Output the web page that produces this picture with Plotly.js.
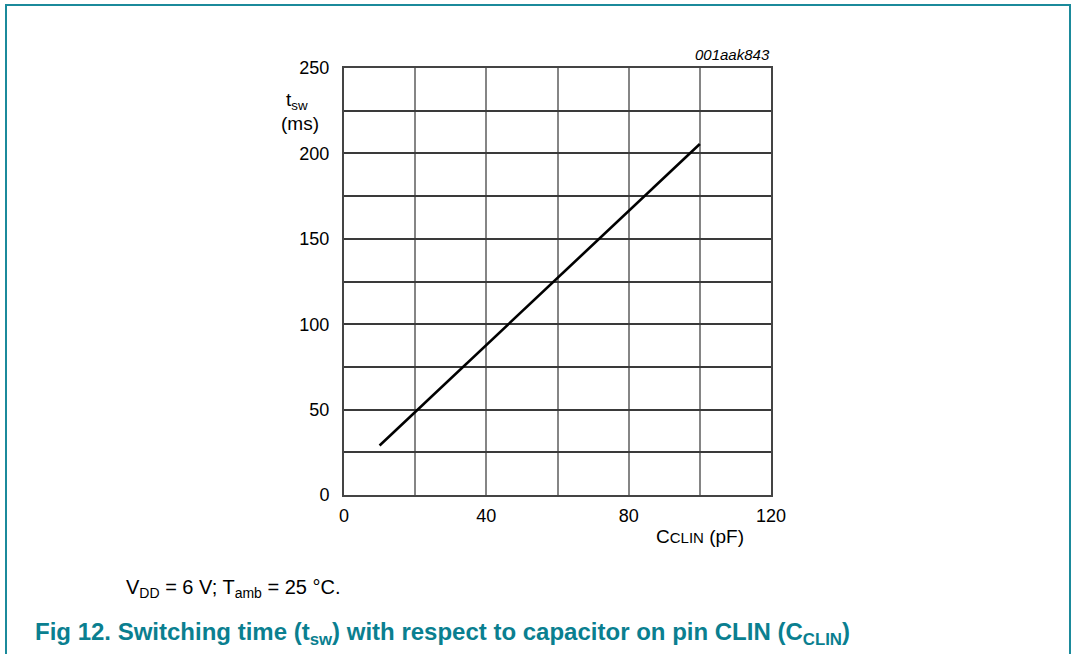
<!DOCTYPE html>
<html>
<head>
<meta charset="utf-8">
<script src="https://cdn.plot.ly/plotly-3.0.1.min.js"></script>
<style>
html,body{margin:0;padding:0;background:#fff;}
#chart{width:1071px;height:654px;position:absolute;left:0;top:0;}
#frame{position:absolute;left:5px;top:4px;width:1062px;height:660px;border-top:2px solid #1b8a9b;border-left:2px solid #1b8a9b;border-right:2px solid #1b8a9b;pointer-events:none;}
</style>
</head>
<body>
<div id="chart"></div>
<div id="frame"></div>
<script>
const capacitance = [10, 100];
const switchingTime = [29, 205.5];
const xGrid = [0, 20, 40, 60, 80, 100, 120];
const xTickLabels = ['0', '', '40', '', '80', '', '120'];
const yGrid = [0, 25, 50, 75, 100, 125, 150, 175, 200, 225, 250];
const yTickLabels = ['0', '', '50', '', '100', '', '150', '', '200', '', '250'];

const trace = {
  x: capacitance, y: switchingTime, mode: 'lines', type: 'scatter',
  line: {color: '#000', width: 2.6}, hoverinfo: 'skip', showlegend: false
};

const fam = 'Liberation Sans, Arial, sans-serif';
const font = {family: fam, size: 18, color: '#000'};
const teal = '#0a7f90';

const layout = {
  width: 1071, height: 654,
  margin: {l: 344, r: 300, t: 68, b: 159},
  paper_bgcolor: '#fff', plot_bgcolor: '#fff',
  font: font,
  xaxis: {
    range: [0, 120], tickvals: xGrid, ticktext: xTickLabels,
    showgrid: true, gridcolor: '#858585', gridwidth: 2,
    showline: true, linecolor: '#444', linewidth: 2, mirror: true,
    ticks: '', ticklabelstandoff: 3, zeroline: false, tickfont: font, fixedrange: true
  },
  yaxis: {
    range: [0, 250], tickvals: yGrid, ticktext: yTickLabels,
    showgrid: true, gridcolor: '#3a3a3a', gridwidth: 2,
    showline: true, linecolor: '#444', linewidth: 2, mirror: true,
    ticks: '', ticklabelstandoff: 9, zeroline: false, tickfont: font, fixedrange: true
  },
  annotations: [
    {text: 't<sub>sw</sub>', xref: 'paper', yref: 'paper', x: (297-344)/427, y: (495-101)/427, xanchor: 'center', yanchor: 'middle', showarrow: false, font: {family: fam, size: 19, color: '#000'}},
    {text: '(ms)', xref: 'paper', yref: 'paper', x: (300-344)/427, y: (495-123)/427, xanchor: 'center', yanchor: 'middle', showarrow: false, font: {family: fam, size: 19, color: '#000'}},
    {text: 'C<span style="font-size:15px">CLIN</span> (pF)', xref: 'paper', yref: 'paper', x: (700-344)/427, y: (495-536)/427, xanchor: 'center', yanchor: 'middle', showarrow: false, font: {family: fam, size: 19, color: '#000'}},
    {text: '<i>001aak843</i>', xref: 'paper', yref: 'paper', x: 1.003, y: 1.008, xanchor: 'right', yanchor: 'bottom', showarrow: false, font: {family: fam, size: 15, color: '#000'}},
    {text: 'V<sub>DD</sub> = 6 V; T<sub>amb</sub> = 25 °C.', xref: 'paper', yref: 'paper', x: (124-344)/427, y: (495-588)/427, xanchor: 'left', yanchor: 'middle', showarrow: false, font: {family: fam, size: 20, color: '#000'}},
    {text: '<b>Fig 12. Switching time (t<sub>sw</sub>) with respect to capacitor on pin CLIN (C<sub>CLIN</sub>)</b>', xref: 'paper', yref: 'paper', x: (33-344)/427, y: (495-633)/427, xanchor: 'left', yanchor: 'middle', showarrow: false, font: {family: fam, size: 24, color: teal}}
  ]
};

Plotly.newPlot('chart', [trace], layout, {staticPlot: true, displayModeBar: false});
</script>
</body>
</html>
